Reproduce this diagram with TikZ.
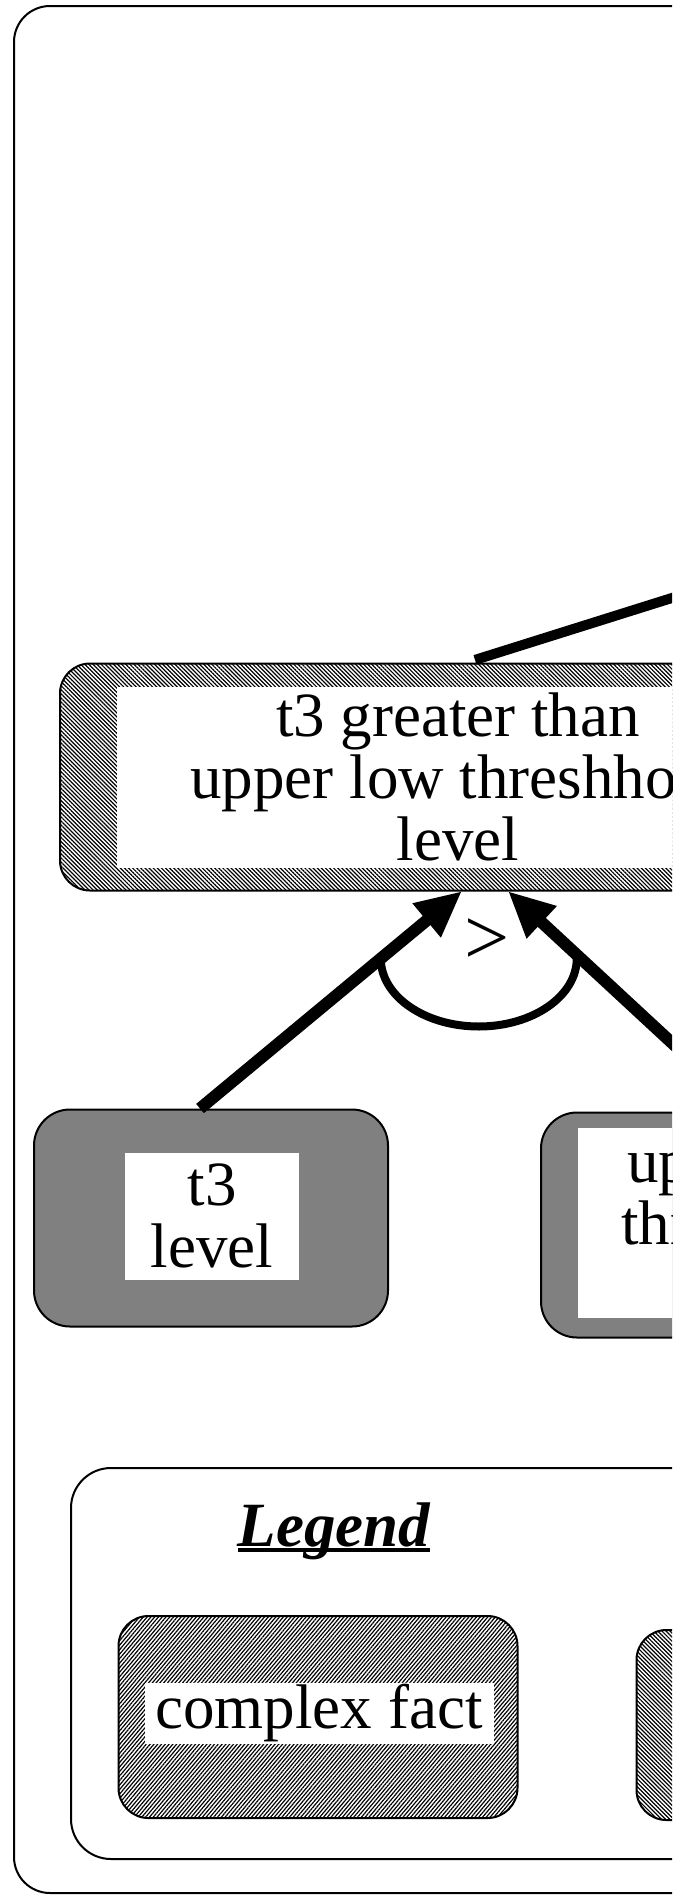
\documentclass[tikz,border=0pt]{standalone}
\usepackage{fontspec}
\setmainfont{Liberation Serif}
\usetikzlibrary{arrows.meta,patterns.meta,calc}

\begin{document}
\begin{tikzpicture}
            [x=1pt, y=-1pt, font=\fontsize{63}{62}\selectfont,
            roundbox/.style={draw=black, line width=2pt, rounded corners=36pt, inner sep=0pt},
            hatchnw/.style={roundbox, rounded corners=30pt,
                pattern={Lines[angle=-45, distance=2.9pt, line width=1.2pt]}},
            hatchne/.style={roundbox, rounded corners=30pt,
                pattern={Lines[angle=50, distance=2.9pt, line width=1.2pt]}},
            graybox/.style={roundbox, fill=black!50},
            txtbox/.style={fill=white, inner sep=0pt, align=center},
            flow/.style={line width=12pt, -{Triangle[length=46pt, width=41pt]}},
            link/.style={line width=10pt}]
            \useasboundingbox (0,0) rectangle (687,1896);
            \clip (0,0) rectangle (672,1896);
            \draw [roundbox] (14,6) rectangle (1400,1893);
            % complex fact
            \node [hatchnw, minimum width=796pt, minimum height=227pt] (cmplx) at (458,777) {};
            \node [txtbox, minimum width=682pt, minimum height=181pt] (cmplxtxt) at (cmplx)
                {t3 greater than\\upper low threshhold\\level};
            \coordinate (linkend) at (869,536);
            \draw [link] ($(cmplx.north)+(17,-3)$) -- (linkend);
            % simple facts
            \node [graybox, minimum width=354pt, minimum height=217pt] (tlevel) at (211,1218) {};
            \node [txtbox, minimum width=174pt, minimum height=127pt] (tleveltxt) at (212,1216) {t3\\level};
            \node [graybox, minimum width=426pt, minimum height=225pt] (uplow) at (754,1225) {};
            \node [txtbox, minimum width=352pt, minimum height=190pt] (uplowtxt) at (754,1223)
                {upper low\\threshhold\\level};
            \draw [flow] ($(tlevel.north)+(-11,0)$) -- coordinate[pos=0.69] (angl) ($(cmplx.south)+(4,0)$);
            \draw [flow] ($(uplow.north)+(-8,0)$) -- coordinate[pos=0.72] (angr) ($(cmplx.south)+(50,0)$);
            \draw [line width=8pt] (angl) arc[start angle=180, end angle=0, x radius=98, y radius=68];
            \node [inner sep=0pt, font=\fontsize{80}{80}\selectfont] (gt) at (487,942) {>};
            % legend
            \draw [roundbox, rounded corners=40pt] (71,1468) rectangle (1300,1859);
            \node [inner sep=0pt] (lgtitle) at (334,1531)
                {\bfseries\itshape\setbox0\hbox{Legend}\rlap{\rule[-6pt]{\wd0}{4pt}}\box0};
            \node [hatchne, minimum width=399pt, minimum height=202pt] (lgcmplx) at (318,1717) {};
            \node [txtbox, minimum width=349pt, minimum height=61pt] (lgcmplxtxt) at (319,1713) {complex fact};
            \node [hatchnw, minimum width=399pt, minimum height=190pt] (lgsimple) at (836,1725) {};
\end{tikzpicture}
\end{document}
